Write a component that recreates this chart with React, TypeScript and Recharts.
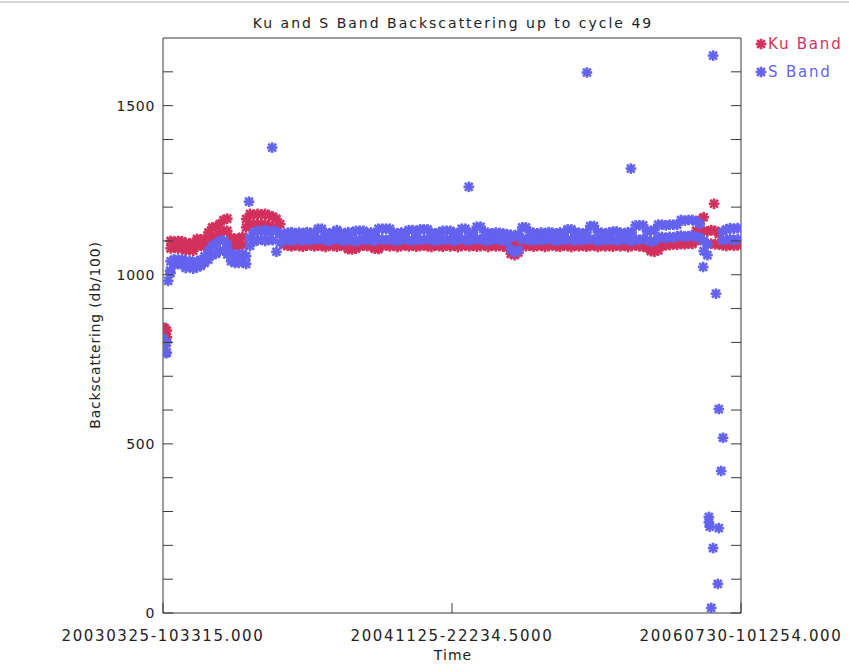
import { ScatterChart, Scatter, XAxis, YAxis, Legend } from "recharts";

const KU_COLOR = "#d3315d";
const S_COLOR = "#6363ef";
const AXIS_COLOR = "#3a3a3a";
const TEXT_COLOR = "#222";
const FONT = "'DejaVu Sans', sans-serif";

// x axis is days since 2003-03-25 10:33:15
const xDomain = [0, 1223];
const xTickValues = [0, 611.5, 1223];
const xTickLabels = ["20030325-103315.000", "20041125-22234.5000", "20060730-101254.000"];
const yTickValues = [0, 100, 200, 300, 400, 500, 600, 700, 800, 900, 1000, 1100, 1200, 1300, 1400, 1500, 1600];
const yLabelValues = [0, 500, 1000, 1500];

// regular samples, one every 8 days; upper and lower edge of each band
const sampleStepDays = 8;

const kuHigh = [
  845, 835, 1100, 1098, 1100, 1099, 1094, 1093, 1095, 1106,
  1105, 1106, 1125, 1140, 1142, 1150, 1162, 1166, 1110, 1106,
  1108, 1112, 1165, 1180, 1176, 1180, 1178, 1180, 1176, 1172,
  1165, 1150, 1110, 1100, 1098, 1100, 1099, 1100, 1098, 1100,
  1099, 1100, 1098, 1100, 1099, 1100, 1098, 1100, 1096, 1095,
  1094, 1095, 1098, 1100, 1099, 1100, 1096, 1096, 1100, 1098,
  1100, 1099, 1100, 1098, 1100, 1099, 1100, 1098, 1100, 1099,
  1100, 1098, 1100, 1099, 1100, 1098, 1100, 1099, 1100, 1098,
  1100, 1099, 1100, 1098, 1100, 1099, 1100, 1098, 1100, 1099,
  1100, 1098, 1090, 1086, 1092, 1100, 1099, 1100, 1098, 1100,
  1099, 1100, 1098, 1100, 1099, 1100, 1098, 1100, 1099, 1100,
  1098, 1100, 1099, 1100, 1098, 1100, 1099, 1100, 1098, 1100,
  1099, 1100, 1098, 1100, 1099, 1100, 1098, 1100, 1099, 1094,
  1092, 1094, 1100, 1102, 1104, 1106, 1108, 1110, 1112, 1114,
  1116, 1130, 1162, 1170, 1128, 1132, 1130, 1120, 1100, 1100,
  1098, 1100, 1099,
];

const kuLow = [
  822, 815, 1078, 1080, 1077, 1079, 1072, 1074, 1071, 1085,
  1086, 1084, 1100, 1112, 1115, 1120, 1128, 1130, 1085, 1082,
  1085, 1088, 1140, 1150, 1148, 1150, 1148, 1150, 1146, 1142,
  1138, 1120, 1088, 1086, 1084, 1087, 1085, 1083, 1086, 1088,
  1084, 1086, 1085, 1082, 1087, 1085, 1083, 1086, 1084, 1076,
  1075, 1077, 1084, 1086, 1085, 1083, 1077, 1076, 1085, 1087,
  1084, 1086, 1082, 1085, 1087, 1084, 1086, 1083, 1085, 1087,
  1084, 1082, 1086, 1085, 1083, 1087, 1084, 1086, 1082, 1085,
  1087, 1084, 1086, 1083, 1085, 1087, 1082, 1086, 1084, 1085,
  1083, 1080, 1062, 1058, 1065, 1086, 1084, 1087, 1083, 1085,
  1086, 1082, 1085, 1087, 1084, 1083, 1086, 1085, 1082, 1087,
  1084, 1086, 1083, 1085, 1087, 1082, 1086, 1084, 1085, 1083,
  1087, 1084, 1086, 1082, 1085, 1087, 1084, 1083, 1080, 1070,
  1068, 1072, 1085, 1087, 1088, 1090, 1089, 1091, 1090, 1092,
  1091, 1100, 1125, 1130, 1092, 1092, 1090, 1090, 1087, 1085,
  1088, 1086, 1087,
];

const sHigh: (number | null)[] = [
  805, 800, 1040, 1046, 1044, 1046, 1038, 1042, 1036, 1040,
  1044, 1055, 1070, 1085, 1092, 1100, 1102, 1090, 1065, 1060,
  1058, 1062, 1055, 1110, 1125, 1130, 1128, 1132, 1126, 1130,
  1128, 1120, 1122, 1124, 1126, 1122, 1125, 1123, 1126, 1124,
  1125, 1136, 1136, 1124, 1122, 1125, 1132, 1124, 1122, 1126,
  1124, 1130, 1130, 1130, 1123, 1125, 1122, 1136, 1136, 1136,
  1136, 1124, 1122, 1125, 1123, 1132, 1132, 1124, 1134, 1134,
  1134, 1124, 1122, 1125, 1130, 1130, 1130, 1124, 1122, 1136,
  1136, 1125, 1124, 1142, 1142, 1126, 1124, 1122, 1125, 1124,
  1122, 1120, 1118, 1112, 1120, 1140, 1140, 1126, 1124, 1122,
  1125, 1123, 1126, 1124, 1122, 1125, 1124, 1134, 1134, 1126,
  1124, 1122, 1125, 1144, 1144, 1126, 1124, 1122, 1125, 1128,
  1128, 1124, 1122, 1126, 1125, 1146, 1146, 1146, 1128, 1130,
  1132, 1148, 1148, 1146, 1148, 1148, 1148, 1162, 1160, 1162,
  1162, 1158, 1150, 1100, 1090, null, null, null, 1128, 1134,
  1138, 1136, 1138,
];

const sLow: (number | null)[] = [
  775, 770, 1005, 1030, 1032, 1030, 1020, 1024, 1018, 1022,
  1026, 1035, 1045, 1058, 1062, 1070, 1072, 1060, 1040, 1035,
  1035, 1038, 1032, 1085, 1098, 1102, 1104, 1100, 1103, 1102,
  1068, 1095, 1102, 1104, 1100, 1106, 1103, 1101, 1105, 1102,
  1104, 1106, 1105, 1102, 1100, 1104, 1106, 1103, 1100, 1104,
  1102, 1098, 1103, 1105, 1102, 1104, 1100, 1106, 1104, 1103,
  1105, 1102, 1100, 1104, 1106, 1103, 1101, 1105, 1102, 1104,
  1106, 1103, 1100, 1104, 1102, 1105, 1103, 1100, 1104, 1106,
  1103, 1101, 1105, 1106, 1104, 1102, 1100, 1104, 1106, 1103,
  1101, 1098, 1075, 1066, 1072, 1104, 1106, 1103, 1101, 1105,
  1102, 1104, 1106, 1103, 1100, 1104, 1102, 1105, 1103, 1101,
  1105, 1102, 1104, 1106, 1103, 1100, 1104, 1102, 1105, 1103,
  1101, 1104, 1106, 1102, 1100, 1105, 1103, 1106, 1102, 1098,
  1100, 1110, 1112, 1108, 1112, 1110, 1114, 1116, 1112, 1114,
  1116, 1112, 1110, 1070, 1058, null, null, null, 1102, 1104,
  1106, 1102, 1105,
];

// isolated points off the regular sampling
const kuExtraDays = [0, 4, 6, 1166];
const kuExtraValues = [830, 842, 816, 1210];
const sExtraDays = [2, 4, 6, 11, 15, 182, 231, 647, 897, 990, 1164, 1143, 1170, 1176, 1185, 1181, 1155, 1155, 1157, 1176, 1164, 1174, 1160];
const sExtraValues = [810, 788, 768, 982, 1012, 1216, 1376, 1260, 1598, 1314, 1648, 1023, 944, 603, 518, 420, 284, 268, 255, 251, 192, 86, 15];

function toPoints(
  high: (number | null)[],
  low: (number | null)[],
  extraDays: number[],
  extraValues: number[]
) {
  const pts: { day: number; value: number }[] = [];
  high.forEach((v, i) => {
    if (v !== null) pts.push({ day: i * sampleStepDays, value: v });
    const lo = low[i];
    if (lo !== null) pts.push({ day: i * sampleStepDays, value: lo });
  });
  extraDays.forEach((d, i) => pts.push({ day: d, value: extraValues[i] }));
  return pts;
}

const kuPoints = toPoints(kuHigh, kuLow, kuExtraDays, kuExtraValues);
const sPoints = toPoints(sHigh, sLow, sExtraDays, sExtraValues);

function Asterisk({ cx, cy, color, r = 4 }: { cx: number; cy: number; color: string; r?: number }) {
  const d = r * 0.75;
  return (
    <g stroke={color} strokeWidth={2.6} strokeLinecap="square">
      <line x1={cx - r} y1={cy} x2={cx + r} y2={cy} />
      <line x1={cx} y1={cy - r} x2={cx} y2={cy + r} />
      <line x1={cx - d} y1={cy - d} x2={cx + d} y2={cy + d} />
      <line x1={cx - d} y1={cy + d} x2={cx + d} y2={cy - d} />
    </g>
  );
}

const labelStyle = { fontFamily: FONT, fontSize: 14, fill: TEXT_COLOR, letterSpacing: 0.7 };

function LeftTick({ x, y, payload }: any) {
  const v = payload.value;
  return (
    <g>
      <line x1={x} y1={y} x2={x + 10} y2={y} stroke={AXIS_COLOR} />
      {yLabelValues.includes(v) && (
        <text x={x - 8} y={y} dy={5} textAnchor="end" {...labelStyle}>
          {v}
        </text>
      )}
    </g>
  );
}

function RightTick({ x, y }: any) {
  return <line x1={x} y1={y} x2={x - 10} y2={y} stroke={AXIS_COLOR} />;
}

function BottomTick({ x, y, payload }: any) {
  const idx = xTickValues.indexOf(payload.value);
  return (
    <g>
      <line x1={x} y1={y} x2={x} y2={y - 10} stroke={AXIS_COLOR} />
      <text x={x} y={y + 28} textAnchor="middle" {...labelStyle} fontSize={15} letterSpacing={1.6}>
        {xTickLabels[idx]}
      </text>
    </g>
  );
}

function TopTick({ x, y }: any) {
  return <line x1={x} y1={y} x2={x} y2={y + 10} stroke={AXIS_COLOR} />;
}

function LegendContent({ payload }: any) {
  return (
    <div>
      {(payload || []).map((item: any) => (
        <div
          key={item.value}
          style={{
            display: "flex",
            alignItems: "center",
            height: 28,
            color: item.color,
            fontFamily: FONT,
            fontSize: 15,
            letterSpacing: 1.8,
          }}
        >
          <svg width={12} height={12} style={{ marginRight: 1 }}>
            <Asterisk cx={6} cy={6} color={item.color} r={4} />
          </svg>
          {item.value}
        </div>
      ))}
    </div>
  );
}

const textBase: React.CSSProperties = {
  position: "absolute",
  fontFamily: FONT,
  color: TEXT_COLOR,
  whiteSpace: "nowrap",
  transform: "translate(-50%, -50%)",
};

export default function App() {
  return (
    <div style={{ position: "absolute", left: 0, top: 0, width: 849, height: 666, background: "#fff" }}>
      <div style={{ position: "absolute", left: 0, top: 1, width: 849, height: 2, background: "#d6d6d6" }} />
      <div style={{ ...textBase, left: 453, top: 23, fontSize: 14, letterSpacing: 2 }}>
        Ku and S Band Backscattering up to cycle 49
      </div>
      <div style={{ ...textBase, left: 453, top: 655, fontSize: 14, letterSpacing: 1 }}>Time</div>
      <div
        style={{
          ...textBase,
          left: 95,
          top: 335,
          fontSize: 14,
          letterSpacing: 0.8,
          transform: "translate(-50%, -50%) rotate(-90deg)",
        }}
      >
        Backscattering (db/100)
      </div>
      <ScatterChart width={849} height={666} margin={{ top: 37, right: 107, bottom: 52, left: 162 }}>
        <XAxis
          dataKey="day"
          type="number"
          domain={xDomain}
          allowDataOverflow
          ticks={xTickValues}
          interval={0}
          height={1}
          tickSize={0}
          tickMargin={0}
          tickLine={false}
          tick={<BottomTick />}
          axisLine={{ stroke: AXIS_COLOR }}
        />
        <XAxis
          xAxisId="top"
          orientation="top"
          type="number"
          domain={xDomain}
          allowDataOverflow
          ticks={[611.5]}
          interval={0}
          height={1}
          tickSize={0}
          tickMargin={0}
          tickLine={false}
          tick={<TopTick />}
          axisLine={{ stroke: AXIS_COLOR }}
        />
        <YAxis
          dataKey="value"
          type="number"
          domain={[0, 1700]}
          allowDataOverflow
          ticks={yTickValues}
          interval={0}
          width={1}
          tickSize={0}
          tickMargin={0}
          tickLine={false}
          tick={<LeftTick />}
          axisLine={{ stroke: AXIS_COLOR }}
        />
        <YAxis
          yAxisId="right"
          orientation="right"
          type="number"
          domain={[0, 1700]}
          allowDataOverflow
          ticks={yTickValues}
          interval={0}
          width={1}
          tickSize={0}
          tickMargin={0}
          tickLine={false}
          tick={<RightTick />}
          axisLine={{ stroke: AXIS_COLOR }}
        />
        <Legend
          layout="vertical"
          align="center"
          verticalAlign="middle"
          content={<LegendContent />}
          wrapperStyle={{ left: 755, top: 30, width: 94 }}
        />
        <Scatter
          name="Ku Band"
          data={kuPoints}
          fill={KU_COLOR}
          isAnimationActive={false}
          shape={(p: any) => <Asterisk cx={p.cx} cy={p.cy} color={KU_COLOR} />}
        />
        <Scatter
          name="S Band"
          data={sPoints}
          fill={S_COLOR}
          isAnimationActive={false}
          shape={(p: any) => <Asterisk cx={p.cx} cy={p.cy} color={S_COLOR} />}
        />
      </ScatterChart>
    </div>
  );
}
